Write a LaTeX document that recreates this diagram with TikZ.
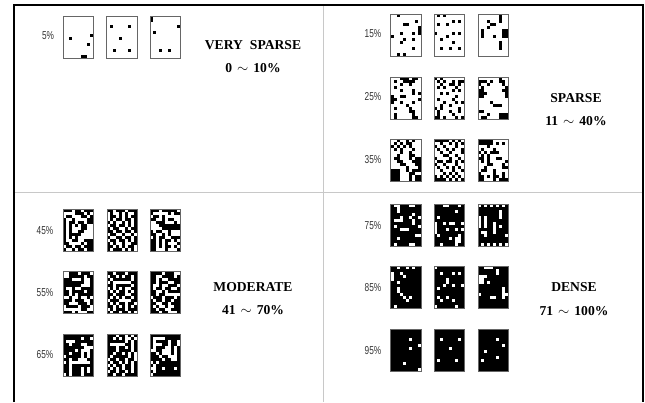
\documentclass[tikz,border=0pt]{standalone}
\usepackage{fontspec}
\setmainfont{Liberation Serif}
\newfontfamily\pctfont[FakeStretch=0.72]{Liberation Sans}
\usepackage{tikz}
\definecolor{edge}{HTML}{666666}
\definecolor{rule}{HTML}{C8C8C8}
\definecolor{pct}{HTML}{333333}
\tikzset{
  frameline/.style={draw=black,line width=2.6pt},
  divider/.style={draw=rule,line width=0.9pt},
  cellframe/.style={draw=edge,line width=0.8pt},
  pctlab/.style={font=\pctfont\fontsize{11.5}{13}\selectfont,text=pct,inner sep=0pt},
  classlab/.style={font=\bfseries\fontsize{13.6}{15}\selectfont,inner sep=0pt},
}
\newcommand{\gapsim}{\hspace{5pt}$\sim$\hspace{5pt}}
\newcount\cellcol
\def\cellscan#1{\ifx#1;\else\if#1x\fill[black] (\the\cellcol*3,\ri*3) rectangle +(3.04,3.04);\fi\advance\cellcol by 1 \expandafter\cellscan\fi}
\newcommand{\patgrid}[3]{%
  \begin{scope}[shift={(#1,#2)}]
    \foreach \row [count=\ri from 0] in {#3} {\cellcol=0 \expandafter\cellscan\row;}
    \draw[cellframe] (0,0) rectangle (30.4,42);
  \end{scope}}
\begin{document}
\begin{tikzpicture}[x=1pt,y=-1pt]
\useasboundingbox (0,0) rectangle (645,402);
% rules
\draw[divider] (14,192.3) -- (643,192.3);
\draw[divider] (323.5,5) -- (323.5,402);
\draw[frameline] (14,402) -- (14,5) -- (643,5) -- (643,402);
% very sparse
\node[pctlab] (p05) at (48,36) {5\%};
\patgrid{63.3}{16.2}{oooooooooo,oooooooooo,oooooooooo,oooooooooo,oooooooooo,oooooooooo,ooooooooox,ooxooooooo,oooooooooo,ooooooooxo,oooooooooo,oooooooooo,oooooooooo,ooooooxxoo}
\patgrid{106.8}{16.2}{oooooooooo,oooooooooo,oooooooooo,oxoooooxoo,oooooooooo,oooooooooo,oooooooooo,ooooxooooo,oooooooooo,oooooooooo,oooooooooo,ooxooooxoo,oooooooooo,oooooooooo}
\patgrid{150.3}{16.2}{xooooooooo,xooooooooo,oooooooooo,ooooooooox,oooooooooo,oxoooooooo,oooooooooo,oooooooooo,oooooooooo,oooooooooo,oooooooooo,oooxooxooo,oooooooooo,oooooooooo}
\node[classlab] (vs) at (253,45) {VERY\hspace{7pt}SPARSE};
\node[classlab] (vsr) at (253,68) {0\gapsim10\%};
% sparse
\node[pctlab] (p15) at (373,34) {15\%};
\patgrid{390.7}{14}{ooxooooooo,oooooooooo,ooooooooxo,ooooxxoooo,ooooooooox,ooooooooox,oooxoooxox,xooooooooo,ooooxooxoo,oooxoooooo,oooooooooo,oooooooxoo,oooooooooo,ooxoxooooo}
\patgrid{434.3}{14}{oxoxoooooo,oooooooooo,ooooooxoxo,oxooxooooo,oooooooooo,oooooooooo,xoooooxoxo,ooooxooooo,ooxooooooo,ooooooxooo,oooooooooo,ooxooxooxo,oooooooooo,oooooooooo}
\patgrid{478.3}{14}{oooooooxoo,oooooooxoo,oooxoooxoo,ooooxxoooo,oooxoooooo,oxooooooxx,oxooooooxx,oxoooxooxx,oooooooooo,oooooooxoo,oooooooxoo,oooooooxoo,oooooooooo,oooooooooo}
\node[pctlab] (p25) at (373,97) {25\%};
\patgrid{390.7}{77}{oooxxxoxxo,oxooxxxxoo,oooxooxooo,oxoooooooo,oooxoooxoo,oooooooxox,xooxxooooo,xxooooooox,xooxoooxoo,oooooxoooo,oxooooxooo,ooooooxxoo,oxoooooxoo,oxoooooxxo}
\patgrid{434.3}{77}{xoxooooooo,oxoxooxoxx,ooxooxxoxo,oxoxoooxoo,ooooooxoxo,ooxoxooooo,oooooooxoo,oxooooxooo,oooxoooxox,ooxooxoooo,xoxoooooxo,oxoooxooxo,oxooooxooo,xxoxoooxox}
\patgrid{478.3}{77}{oooooooxoo,xxxoxooxxo,xooxooooxo,oxooooooox,xxooooooxx,xxxoooooox,xxooooooox,oooooooooo,ooooxooooo,oooooxxxoo,oooooooooo,xxoooooooo,oooxoooxxx,oxxooooxxx}
\node[pctlab] (p35) at (373,160) {35\%};
\patgrid{390.7}{139.3}{ooxooxoxoo,oxoxoxxooo,xoxoxoxooo,oxoxoooxoo,oooxooxooo,ooxoooxxoo,oxxoooxoxx,ooxxoooxxx,oooxxoooxx,oooooxooox,xxxooxoxxx,xxxoooxxoo,xxxoooxoxx,xxxoooxoxx}
\patgrid{434.3}{139.3}{xxxxxoxoxo,ooxooxoxox,xooxoooxoo,oxooxoxoox,ooxooxooox,oooxxooxoo,xooooxooxo,oxxoxxoxox,xooxoooxoo,oxooxoxoxo,ooxoooxoox,oooxoxoxoo,xoxoxoxoxo,xxxxoxoxox}
\patgrid{478.3}{139.3}{xxxxxooooo,xxxxxoxoxo,oooxoooooo,oxoooxoooo,xoxoxxxooo,oxoxoooooo,xxoxooxxoo,oxoxooooox,oooxxoooxo,ooxoooooxx,oxxooxoooo,xooooxooxo,xxoxoxxoxo,xxoooxoxxx}
\node[classlab] (sp) at (576,98) {SPARSE};
\node[classlab] (spr) at (576,121) {11\gapsim40\%};
% moderate
\node[pctlab] (p45) at (45,231) {45\%};
\patgrid{63}{209}{xxxoxxoxxx,ooooxxxoxo,oxxoooxxox,xooxooooxx,xoxxoxxoxx,xoxoxoxxoo,xoxoooxxoo,xoxooxxooo,xoxxxxoooo,xoxoxooooo,xooxxooxxx,xxooooxoxx,oxxoxxoxxx,xooxoxxoxx}
\patgrid{107}{209}{xxoxxxoxxx,oxooxoxoox,oxxoxoxoxx,oxoxxoxxox,xoxooxoxox,oxxoxxoxox,xoxxooxoxx,xxoxxoxxox,oxxooxooxo,xooxxoxxox,oxxoxxoxox,xoxooxooxx,xxoxoxoxxo,xoxxxoxoxo}
\patgrid{150.3}{209}{xxxoxxxxxo,xoooooxoxx,oxxoxooooo,xxooxoxxoo,ooxxxoooxo,oooxxxxxxx,ooooxxxxxx,xoxxooxooo,xxooxoxooo,oxoxxooxxx,xxoxoxxoxo,xxoxoxooox,xxoxoxxoxo,xxoooxooox}
\node[pctlab] (p55) at (45,293) {55\%};
\patgrid{63}{271.7}{ooxxxoxxxo,ooxxxxxoxx,xxxoooxoox,xxxxxxxoox,xxxxxxooox,xooxooxxxx,xxoxxxxoxx,xxoxoxxxxx,ooxooxooxo,xxxoxxxoox,xxoooxxxox,oxxxxoxxxo,ooooooxxoo,xxxoxoooxx}
\patgrid{107}{271.7}{xxoxxxoxxx,oxxoxoxxox,xoxxxxxxox,oxooooooxx,xxoxxxxxox,oxoxoxooxx,xoxoxxoxox,xxoxxxooxx,xoxoxoxxox,oxxxooooxx,xoxoxxoxxo,xxoxoxoxox,oxoxxxoxxx,xoxxoxxoxo}
\patgrid{150.3}{271.7}{xxxxoxxxoo,xxooxxxxox,xxoxooxxxx,xxoxxxooxx,xooxooxxxo,xoxxoxxoox,xxooxoxxxx,xxoxxooooo,oxxxoxxxox,xoxxoxxoxx,xxooxxoxxx,xoxooxooxx,xxoxxooxxx,xxxoxxooox}
\node[pctlab] (p65) at (45,355) {65\%};
\patgrid{63}{334.3}{xxxxxxxxxx,xxxxxxoxxo,xoooxxxxxx,xxoxxxooxx,xxxxxxxooo,xxxxoxooox,xxoxxxoxox,oxxxxxoxox,xxoxxoooxx,oxooooooox,xxoxxxxxxx,xxoxxxoxox,xxoxxxoxox,oxoxxxoxxx}
\patgrid{107}{334.3}{xxxoxxoxox,xxoxoxooxo,xxxxxxoxox,xoooooxxox,xxxoxxoxox,xxxoxxxxox,xxoxxoxoxo,xoxxxxxoxo,oxxoxxoxxo,xoxxoxoxox,oxoxxoxxox,xoxoxoxxox,oxxoxxoxox,xxoxxoxxxx}
\patgrid{150.3}{334.3}{xxxxxxxxxx,xooooxxxxx,xoxxxxoxxo,xoooxxoxxo,xoxxxooxox,ooxxoooxox,xxoxoooxox,xxxoxxooox,xxxxoxxoox,oxoxxxxxxx,xoxxxxxxxx,ooxxoxxxox,xoxxxxxxxx,oxxxxxxxxx}
\node[classlab] (md) at (253,287) {MODERATE};
\node[classlab] (mdr) at (253,310) {41\gapsim70\%};
% dense
\node[pctlab] (p75) at (373,226) {75\%};
\patgrid{390.7}{204}{xooxxxooxx,xxoxxxxxxx,xxoxxxxxxx,xxxxxxxoxx,xxxoxxoxxo,xoooxxxoxx,xxxxxxxoxx,xoxxxxxxxo,xxxoooxxxx,xxxxxxxxxx,xxxxxxxxoo,xxoxxxxxxx,xxxxxxxxxx,xoxxxxooxx}
\patgrid{434.3}{204}{xxxooxxxox,xxxxxxxxxx,xxxxxxxoxx,xxxxxxxxxx,xoxxxxxxxx,xxxxxxxxxx,oxxoxooxxo,oxxxxxxxxx,oxxxoxxoxo,oxxxxxxxxx,xoxxxxxxox,xxxxxoxoox,xxxxxxxoox,xxoxxxxoxx}
\patgrid{478.3}{204}{oxoxoxoxox,xxxxxxxxxx,xxxxxxxoxx,xxxxxxxoxx,oxoxxxxoxx,oxoxxxxxxx,oxoxxoxxxx,oxoxxoxoxx,xxxxxoxxxx,xooxxoxxxx,xxoxxxxxxo,xxxxxxxxxx,xxxxxxxxxx,xoxoxoxoxo}
\node[pctlab] (p85) at (373,288) {85\%};
\patgrid{390.7}{266.3}{xxoxxoxoxx,xxxxxxxxxx,oxxoxxxxxx,oxxxoxxxxx,oxxxxxxxxx,xxoxxxxxxx,xxxxxxxxxx,xxoxxxxxxx,xxoxxxxxxx,xxxoxxxxxx,xxxxoxoxxx,xxxxxoxxxx,xxxxxxxxxx,xoxxxxxxxx}
\patgrid{434.3}{266.3}{oxxxxxxxxx,xxxxxxxxxx,xxoxxxoxox,xxxxxxxxxx,xxxxoxxxxx,xxxxoxxxxx,xxxoxxoxxo,xoxxxxxxxx,xxxxxxxxxx,xxxxxxxxxx,xoxxoxxxxx,xxoxxxoxxx,xxxxxxxxxx,oxxxxxxoxx}
\patgrid{478.3}{266.3}{xxoooxxxxx,xxxxxxoxxx,xxxxxxoxxx,oooxxxxxxx,ooxxxxxxxx,ooxoxxxxxx,xxxxxxxxxx,xxxxxxxxox,xxxxxxxxox,oxxxxxxxoo,xxxxooxxox,xxxxxxxxxx,xxxxxxxxxx,xxxxxxxxxx}
\node[pctlab] (p95) at (373,351) {95\%};
\patgrid{390.7}{329}{xxxxxxxxxx,xxxxxxxxxx,xxxxxxxxxx,xxxxxxoxxx,xxxxxxxxxx,xxxxxxxxxo,xxxxxxoxxx,xxxxxxxxxx,xxxxxxxxxx,xxxxxxxxxx,xxxxxxxxxx,xxxxoxxxxx,xxxxxxxxxx,xxxxxxxxxo}
\patgrid{434.3}{329}{xxxxxxxxxx,xxxxxxxxxx,xxxxxxxxxx,xxoxxxxxox,xxxxxxxxxx,xxxxxxxxxx,xxxxxoxxxx,xxxxxxxxxx,xxxxxxxxxx,xxxxxxxxxx,xoxxxxxoxx,xxxxxxxxxx,xxxxxxxxxx,xxxxxxxxxx}
\patgrid{478.3}{329}{xxxxxxxxxx,xxxxxxxxxx,xxxxxxxxxx,xxxxxxoxxx,xxxxxxxxxx,xxxxxxxxox,xxxxxxxxxx,xxoxxxxxxx,xxxxxxxxxx,xxxxxxoxxx,xoxxxxxxxx,xxxxxxxxxx,xxxxxxxxxx,xxxxxxxxxx}
\node[classlab] (dn) at (574,287) {DENSE};
\node[classlab] (dnr) at (574,311) {71\gapsim100\%};
\end{tikzpicture}
\end{document}
